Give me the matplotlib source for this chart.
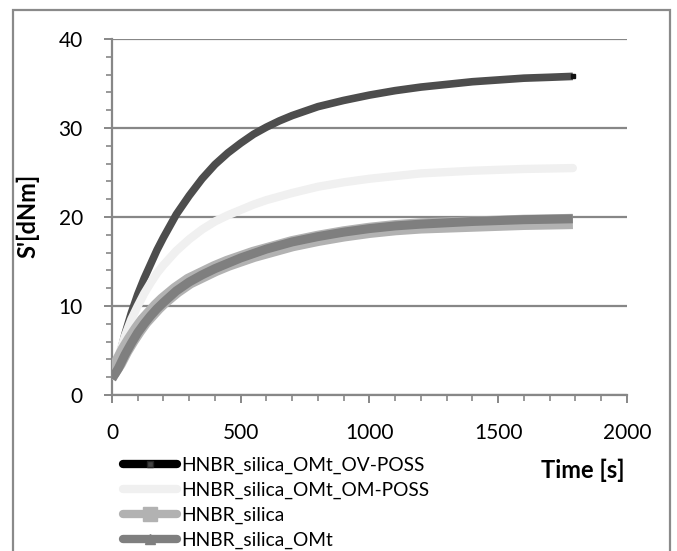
import numpy as np
import matplotlib.pyplot as plt
from matplotlib.lines import Line2D
from matplotlib.patches import Rectangle
from matplotlib.ticker import MultipleLocator

plt.rcParams['font.family'] = ['Lato', 'DejaVu Sans']

# cure curves, torque S' vs time
time_s = [0, 25, 50, 75, 100, 125, 150, 175, 200, 250, 300, 350, 400, 450, 500, 550, 600,
          650, 700, 800, 900, 1000, 1100, 1200, 1300, 1400, 1500, 1600, 1700, 1790]

s_ov_poss = [2.0, 4.0, 6.8, 9.2, 11.3, 13.1, 14.7, 16.3, 17.7, 20.3, 22.4, 24.3, 25.9, 27.2, 28.3,
             29.3, 30.1, 30.8, 31.4, 32.4, 33.1, 33.7, 34.2, 34.6, 34.9, 35.2, 35.4, 35.6, 35.7, 35.8]
s_om_poss = [2.2, 4.3, 6.6, 8.5, 10.0, 11.4, 12.6, 13.7, 14.6, 16.2, 17.5, 18.6, 19.5, 20.2, 20.8,
             21.4, 21.9, 22.3, 22.7, 23.4, 23.9, 24.3, 24.6, 24.9, 25.05, 25.2, 25.3, 25.4, 25.45, 25.5]
s_silica = [2.5, 3.6, 5.0, 6.2, 7.3, 8.3, 9.1, 9.9, 10.6, 11.8, 12.8, 13.5, 14.2, 14.8, 15.3,
            15.8, 16.2, 16.6, 17.0, 17.6, 18.1, 18.5, 18.8, 19.0, 19.1, 19.2, 19.3, 19.4, 19.45, 19.5]
s_omt = [1.8, 3.0, 4.5, 5.8, 7.0, 8.0, 8.9, 9.7, 10.4, 11.7, 12.7, 13.5, 14.2, 14.8, 15.4,
         15.9, 16.4, 16.8, 17.2, 17.8, 18.3, 18.7, 19.0, 19.2, 19.35, 19.5, 19.6, 19.7, 19.75, 19.8]

labels = ['HNBR_silica_OMt_OV-POSS', 'HNBR_silica_OMt_OM-POSS', 'HNBR_silica', 'HNBR_silica_OMt']

fig = plt.figure(figsize=(6.77, 5.51), dpi=100)
ax = fig.add_axes([0.1654, 0.2831, 0.7606, 0.6461])

grid_c = '#878787'
last = len(time_s) - 1
line_kw = dict(solid_capstyle='butt', solid_joinstyle='round')

ax.plot(time_s, s_ov_poss, color='#4d4d4d', lw=5.5, marker='s', ms=3, mfc='#111111',
        mec='#111111', markevery=[last], zorder=3, **line_kw)
ax.plot(time_s, s_om_poss, color='#f0f0f0', lw=6, zorder=4,
        solid_capstyle='round', solid_joinstyle='round')
ax.plot(time_s, s_silica, color='#b2b2b2', lw=11, zorder=5, **line_kw)
ax.plot(time_s, s_omt, color='#7f7f7f', lw=6.5, zorder=6, **line_kw)

ax.set_xlim(0, 2000)
ax.set_ylim(0, 40)
ax.xaxis.set_major_locator(MultipleLocator(500))
ax.xaxis.set_minor_locator(MultipleLocator(100))
ax.yaxis.set_major_locator(MultipleLocator(10))
ax.yaxis.set_minor_locator(MultipleLocator(2))

ax.grid(axis='y', which='major', color=grid_c, lw=1.6, zorder=1)
ax.set_axisbelow(True)
for side in ['top', 'right']:
    ax.spines[side].set_visible(False)
for side in ['left', 'bottom']:
    ax.spines[side].set_color(grid_c)
    ax.spines[side].set_linewidth(1.6)

ax.tick_params(axis='both', which='major', direction='out', length=6, width=1.4,
               color=grid_c, labelsize=15, pad=14)
ax.tick_params(axis='both', which='minor', direction='out', length=4, width=1.2, color=grid_c)
ax.tick_params(axis='y', which='major', pad=15)

ax.set_ylabel("S'[dNm]", fontsize=17, fontweight='bold')
ax.yaxis.set_label_coords(-0.14, 0.503)
fig.text(583 / 677, 1 - 470 / 551, 'Time [s]', fontsize=17, fontweight='bold',
         ha='center', va='center')

handles = [
    Line2D([], [], color='black', lw=6, marker='s', ms=4, mfc='#444444', mec='#222222',
           solid_capstyle='round'),
    Line2D([], [], color='#f0f0f0', lw=6, solid_capstyle='round'),
    Line2D([], [], color='#b2b2b2', lw=6, marker='s', ms=10, mfc='#b2b2b2', mec='#b2b2b2',
           solid_capstyle='round'),
    Line2D([], [], color='#7f7f7f', lw=6, marker='^', ms=7, mfc='#7f7f7f', mec='#7f7f7f',
           solid_capstyle='round'),
]
fig.legend(handles, labels, loc='upper left', bbox_to_anchor=(123 / 677, 1 - 457 / 551),
           frameon=False, fontsize=13.8, handlelength=2.8, handletextpad=0.22,
           labelspacing=0.4, borderpad=0, borderaxespad=0)

# outer frame of the chart area
fig.patches.append(Rectangle((13 / 677, -0.1), 657 / 677, 1.1 - 10 / 551,
                             transform=fig.transFigure, fill=False,
                             edgecolor='#8a8a8a', lw=1.6))

fig.savefig('out.png', dpi=100)
